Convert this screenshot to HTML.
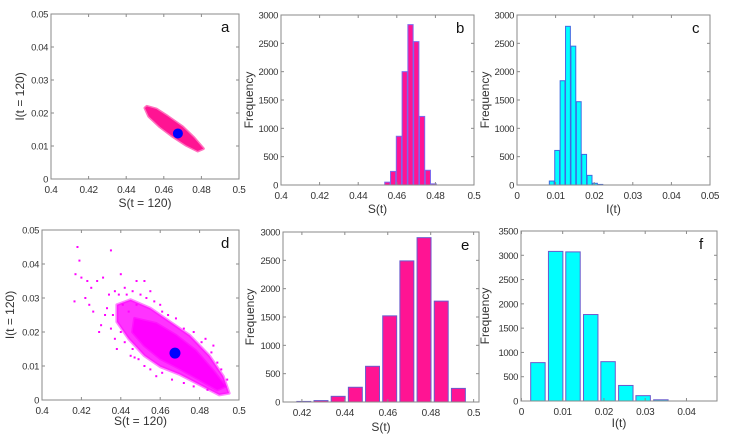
<!DOCTYPE html>
<html><head><meta charset="utf-8">
<style>
html,body{margin:0;padding:0;background:#fff;}
svg{display:block;font-family:"Liberation Sans",sans-serif;}
</style></head>
<body>
<svg id="fig" width="743" height="439" viewBox="0 0 743 439"></svg>
<script>
// ---------- data ----------
const aOutline = [[0.451,0.022],[0.456,0.0212],[0.462,0.019],[0.470,0.0158],[0.476,0.0125],[0.481,0.0092],[0.478,0.0085],[0.472,0.0102],[0.465,0.0128],[0.458,0.0158],[0.452,0.019],[0.450,0.0215]];
const aMean = [0.4675, 0.0138];
const dOuter = [[0.438,0.028],[0.445,0.0295],[0.455,0.027],[0.465,0.023],[0.475,0.019],[0.485,0.013],[0.492,0.007],[0.495,0.002],[0.490,0.0015],[0.480,0.0045],[0.470,0.0075],[0.460,0.0098],[0.452,0.013],[0.444,0.018],[0.438,0.023]];
const dInner = [[0.447,0.024],[0.458,0.0225],[0.468,0.019],[0.478,0.0145],[0.487,0.0085],[0.493,0.004],[0.489,0.003],[0.480,0.006],[0.470,0.0092],[0.460,0.0122],[0.452,0.016],[0.446,0.020]];
const dOutliers = [[0.418,0.045],[0.419,0.041],[0.4165,0.029],[0.417,0.037],[0.420,0.036],[0.435,0.044],[0.423,0.035],[0.425,0.033],[0.422,0.030],[0.428,0.035],[0.431,0.036],[0.424,0.028],[0.430,0.022],[0.432,0.025],[0.440,0.037],[0.448,0.035],[0.452,0.035],[0.442,0.033],[0.445,0.013],[0.447,0.0125],[0.452,0.010],[0.458,0.007],[0.437,0.032],[0.426,0.026],[0.434,0.031],[0.438,0.015],[0.455,0.032],[0.460,0.028],[0.487,0.016],[0.483,0.018],[0.429,0.020],[0.441,0.028],
[0.433,0.027],[0.436,0.025],[0.439,0.031],[0.443,0.031],[0.446,0.032],[0.450,0.031],[0.453,0.030],[0.457,0.029],[0.461,0.026],[0.464,0.025],[0.468,0.024],[0.472,0.021],[0.477,0.020],[0.481,0.017],[0.486,0.014],[0.489,0.011],[0.491,0.009],[0.494,0.006],[0.440,0.020],[0.442,0.017],[0.446,0.015],[0.449,0.012],[0.455,0.009],[0.461,0.008],[0.466,0.006],[0.472,0.005],[0.477,0.004],[0.484,0.003],[0.435,0.021],[0.437,0.018],[0.444,0.026],[0.448,0.028]];
const dMean = [0.4675, 0.0138];

const bCenters = [0.4551,0.4581,0.4611,0.4641,0.4671,0.4701,0.4731,0.4761,0.4791];
const bCounts  = [50,240,860,2000,2830,2530,1210,260,20];
const cCenters = [0.0090,0.0104,0.0118,0.0132,0.0146,0.0160,0.0174,0.0188,0.0202,0.0216];
const cCounts  = [70,610,1840,2800,2450,1470,540,170,30,10];
const eCenters = [0.4209,0.4289,0.4369,0.4449,0.4529,0.4609,0.4689,0.4769,0.4849,0.4929];
const eCounts  = [10,25,100,260,630,1520,2490,2900,1780,240];
const fCenters = [0.0040,0.0083,0.0125,0.0168,0.0210,0.0253,0.0295,0.0338];
const fCounts  = [790,3080,3070,1780,810,320,110,25];

const sTicks = [0.4,0.42,0.44,0.46,0.48,0.5];
const iTicks = [0,0.01,0.02,0.03,0.04,0.05];
const fTicks = [0,500,1000,1500,2000,2500,3000];
const fTicks2 = [0,500,1000,1500,2000,2500,3000,3500];
const eXTicks = [0.42,0.44,0.46,0.48,0.5];
const fXTicks = [0,0.01,0.02,0.03,0.04];

// ---------- helpers ----------
const NS="http://www.w3.org/2000/svg";
const svg=document.getElementById('fig');
function mk(tag,attrs,parent){const e=document.createElementNS(NS,tag);for(const k in attrs)e.setAttribute(k,attrs[k]);(parent||svg).appendChild(e);return e;}
function fmt(v){return String(Math.round(v*1000)/1000);}

function panel(id,box,xd,yd,xt,yt,xlabel,ylabel,letter,xlabY,ylabX){
  const g=mk('g',{});
  
  
  const [L,T,R,B]=box;
  const sx=v=>L+(v-xd[0])/(xd[1]-xd[0])*(R-L);
  const sy=v=>B-(v-yd[0])/(yd[1]-yd[0])*(B-T);
  const plot=mk('g',{},g);
  const ax=mk('g',{},g);
  
  
  mk('rect',{x:L,y:T,width:R-L,height:B-T,fill:'none',stroke:'#8a8a8a','stroke-width':1},ax);
  xt.forEach(v=>{const x=sx(v);
    mk('line',{x1:x,x2:x,y1:B,y2:B-3,stroke:'#8a8a8a'},ax);
    mk('line',{x1:x,x2:x,y1:T,y2:T+3,stroke:'#8a8a8a'},ax);
    const t=mk('text',{x:x,y:B+14,'font-size':10,'letter-spacing':-0.3,'text-anchor':'middle',fill:'#333'},ax);
    
    
    t.textContent=fmt(v);});
  yt.forEach(v=>{const y=sy(v);
    mk('line',{x1:L,x2:L+3,y1:y,y2:y,stroke:'#8a8a8a'},ax);
    mk('line',{x1:R,x2:R-3,y1:y,y2:y,stroke:'#8a8a8a'},ax);
    const t=mk('text',{x:L-3,y:y+3.5,'font-size':9.5,'letter-spacing':-0.4,'text-anchor':'end',fill:'#333'},ax);
    
    
    t.textContent=fmt(v);});
  const xl=mk('text',{x:(L+R)/2,y:xlabY,'font-size':12,'text-anchor':'middle',fill:'#333'},ax);
  
  
  xl.textContent=xlabel;
  const yx=ylabX;
  const yl=mk('text',{x:yx,y:(T+B)/2,'font-size':12,'text-anchor':'middle',fill:'#333',transform:`rotate(-90 ${yx} ${(T+B)/2})`},ax);
  
  
  yl.textContent=ylabel;
  const lt=mk('text',{x:R-18,y:T+18,'font-size':15,fill:'#111'},ax);
  
  
  lt.textContent=letter;
  return {plot,sx,sy};
}
function poly(p,pts,fill,op,name){
  const e=mk('polygon',{points:pts.map(q=>p.sx(q[0])+','+p.sy(q[1])).join(' '),fill:fill,'fill-opacity':op,stroke:fill,'stroke-width':3,'stroke-opacity':op*0.6,'stroke-linejoin':'round'},p.plot);
  
  
}
function dot(p,pt,r,fill,name){
  const e=mk('circle',{cx:p.sx(pt[0]),cy:p.sy(pt[1]),r:r,fill:fill},p.plot);
  
  
}
function bars(p,centers,counts,w,fill,edge){
  centers.forEach((c,i)=>{
    const x0=p.sx(c-w/2),x1=p.sx(c+w/2),y=p.sy(counts[i]),y0=p.sy(0);
    const r=mk('rect',{x:x0,y:y,width:x1-x0,height:y0-y,fill:fill,stroke:edge,'stroke-width':1},p.plot);
    
    
  });
}

// ---------- panels ----------
const pa=panel('a',[51,14,239,179],[0.4,0.5],[0,0.05],sTicks,iTicks,'S(t = 120)','I(t = 120)','a',207,24);
poly(pa,aOutline,'#ff1493',1,'scatter-cloud');
dot(pa,aMean,5,'#0000ff','mean-point');

const pb=panel('b',[281,15,474,185],[0.4,0.5],[0,3000],sTicks,fTicks,'S(t)','Frequency','b',213,253);
bars(pb,bCenters,bCounts,0.0027,'#ff1493','#7b68ee');

const pc=panel('c',[517,15,710,185],[0,0.05],[0,3000],iTicks,fTicks,'I(t)','Frequency','c',213,489);
bars(pc,cCenters,cCounts,0.00125,'#00ffff','#4169e1');

const pd=panel('d',[42,230,239,400],[0.4,0.5],[0,0.05],sTicks,iTicks,'S(t = 120)','I(t = 120)','d',425,14);
poly(pd,dOuter,'#ff00ff',0.8,'scatter-cloud-outer');
poly(pd,dInner,'#ff00ff',1,'scatter-cloud-core');
dOutliers.forEach(q=>{
  const e=mk('rect',{x:pd.sx(q[0])-1,y:pd.sy(q[1])-1,width:2,height:2,fill:'#ff00ff'},pd.plot);
  
  
});
dot(pd,dMean,5.5,'#0000ff','mean-point');

const pe=panel('e',[283,232,479,402],[0.4112,0.5025],[0,3000],eXTicks,fTicks,'S(t)','Frequency','e',431,254);
bars(pe,eCenters,eCounts,0.0065,'#ff1493','#6a5acd');

const pf=panel('f',[521,231,717,401],[-0.0001,0.0474],[0,3500],fXTicks,fTicks2,'I(t)','Frequency','f',427,489);
bars(pf,fCenters,fCounts,0.0035,'#00ffff','#6a5acd');
</script>
</body></html>
